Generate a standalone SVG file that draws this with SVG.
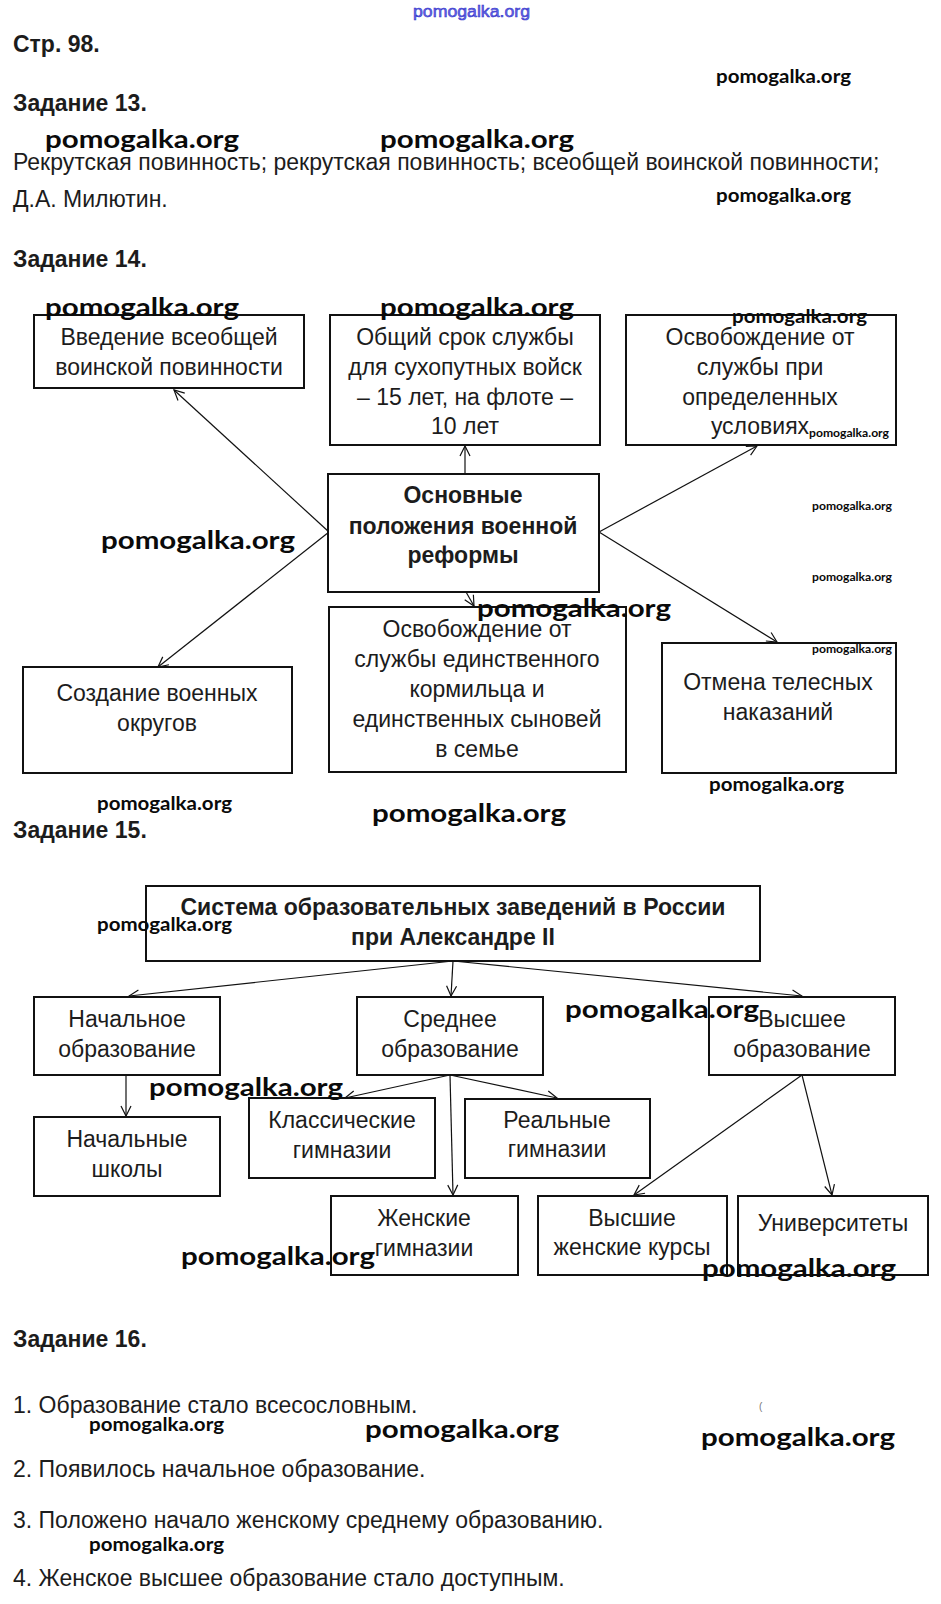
<svg xmlns="http://www.w3.org/2000/svg" width="941" height="1604" viewBox="0 0 941 1604">
<style>
text{font-family:"Liberation Sans",Arial,sans-serif;fill:#1c1c1c}
.h{font-size:23px;font-weight:bold}
.b{font-size:23px}
.t{font-size:23px;text-anchor:middle}
.tb{font-size:23px;font-weight:bold;text-anchor:middle}
.box{fill:#fff;stroke:#111;stroke-width:2}
.c line{stroke:#111;stroke-width:1.2;marker-end:url(#arr)}
.w{font-family:Lato,"Open Sans",sans-serif;font-weight:bold;fill:#0a0a0a}
.wl{font-size:25px}
.ws{font-size:18px}
.wt{font-size:11px}
</style>
<defs>
<marker id="arr" viewBox="0 0 12 12" refX="11" refY="6" markerWidth="12" markerHeight="12" markerUnits="userSpaceOnUse" orient="auto">
<path d="M1,1 L11,6 L1,11" fill="none" stroke="#111" stroke-width="1.2"/>
</marker>
</defs>
<rect width="941" height="1604" fill="#fff"/>

<g id="text-top">
<text x="13" y="52" class="h">Стр. 98.</text>
<text x="13" y="111" class="h">Задание 13.</text>
<text x="13" y="170" class="b">Рекрутская повинность; рекрутская повинность; всеобщей воинской повинности;</text>
<text x="13" y="207" class="b">Д.А. Милютин.</text>
<text x="13" y="267" class="h">Задание 14.</text>
</g>

<g id="connectors-14" class="c">
<line x1="329" y1="532" x2="174" y2="390"/>
<line x1="465" y1="474" x2="465" y2="446"/>
<line x1="599" y1="532" x2="757" y2="446"/>
<line x1="599" y1="532" x2="777" y2="642"/>
<line x1="329" y1="532" x2="158" y2="667"/>
<line x1="466" y1="592" x2="474" y2="606"/>
</g>

<g id="n-vvedenie"><rect class="box" x="34" y="315" width="270" height="73"/>
<text class="t" x="169" y="345">Введение всеобщей</text><text class="t" x="169" y="375">воинской повинности</text></g>
<g id="n-srok"><rect class="box" x="330" y="315" width="270" height="130"/>
<text class="t" x="465" y="345">Общий срок службы</text><text class="t" x="465" y="375">для сухопутных войск</text><text class="t" x="465" y="405">– 15 лет, на флоте –</text><text class="t" x="465" y="434">10 лет</text></g>
<g id="n-osvob1"><rect class="box" x="626" y="315" width="270" height="130"/>
<text class="t" x="760" y="345">Освобождение от</text><text class="t" x="760" y="375">службы при</text><text class="t" x="760" y="405">определенных</text><text class="t" x="760" y="434">условиях</text></g>
<g id="n-center"><rect class="box" x="328" y="474" width="271" height="118"/>
<text class="tb" x="463" y="503">Основные</text><text class="tb" x="463" y="534">положения военной</text><text class="tb" x="463" y="563">реформы</text></g>
<g id="n-okruga"><rect class="box" x="23" y="667" width="269" height="106"/>
<text class="t" x="157" y="701">Создание военных</text><text class="t" x="157" y="731">округов</text></g>
<g id="n-osvob2"><rect class="box" x="329" y="607" width="297" height="165"/>
<text class="t" x="477" y="637">Освобождение от</text><text class="t" x="477" y="667">службы единственного</text><text class="t" x="477" y="697">кормильца и</text><text class="t" x="477" y="727">единственных сыновей</text><text class="t" x="477" y="757">в семье</text></g>
<g id="n-otmena"><rect class="box" x="662" y="643" width="234" height="130"/>
<text class="t" x="778" y="690">Отмена телесных</text><text class="t" x="778" y="720">наказаний</text></g>

<text x="13" y="838" class="h">Задание 15.</text>

<g id="connectors-15" class="c">
<line x1="453" y1="961" x2="129" y2="996"/>
<line x1="453" y1="961" x2="451" y2="996"/>
<line x1="453" y1="961" x2="802" y2="996"/>
<line x1="126" y1="1075" x2="126" y2="1116"/>
<line x1="450" y1="1075" x2="345" y2="1098"/>
<line x1="450" y1="1075" x2="557" y2="1098"/>
<line x1="450" y1="1075" x2="453" y2="1195"/>
<line x1="802" y1="1075" x2="634" y2="1195"/>
<line x1="802" y1="1075" x2="832" y2="1195"/>
</g>

<g id="n-system"><rect class="box" x="146" y="886" width="614" height="75"/>
<text class="tb" x="453" y="915">Система образовательных заведений в России</text><text class="tb" x="453" y="945">при Александре II</text></g>
<g id="n-nach"><rect class="box" x="34" y="997" width="186" height="78"/>
<text class="t" x="127" y="1027">Начальное</text><text class="t" x="127" y="1057">образование</text></g>
<g id="n-sred"><rect class="box" x="357" y="997" width="186" height="78"/>
<text class="t" x="450" y="1027">Среднее</text><text class="t" x="450" y="1057">образование</text></g>
<g id="n-vyssh"><rect class="box" x="709" y="997" width="186" height="78"/>
<text class="t" x="802" y="1027">Высшее</text><text class="t" x="802" y="1057">образование</text></g>
<g id="n-shkoly"><rect class="box" x="34" y="1117" width="186" height="79"/>
<text class="t" x="127" y="1147">Начальные</text><text class="t" x="127" y="1177">школы</text></g>
<g id="n-klass"><rect class="box" x="249" y="1098" width="186" height="80"/>
<text class="t" x="342" y="1128">Классические</text><text class="t" x="342" y="1158">гимназии</text></g>
<g id="n-real"><rect class="box" x="465" y="1099" width="185" height="79"/>
<text class="t" x="557" y="1128">Реальные</text><text class="t" x="557" y="1157">гимназии</text></g>
<g id="n-zhen"><rect class="box" x="331" y="1196" width="187" height="79"/>
<text class="t" x="424" y="1226">Женские</text><text class="t" x="424" y="1256">гимназии</text></g>
<g id="n-kursy"><rect class="box" x="538" y="1196" width="189" height="79"/>
<text class="t" x="632" y="1226">Высшие</text><text class="t" x="632" y="1255">женские курсы</text></g>
<g id="n-univ"><rect class="box" x="738" y="1196" width="190" height="79"/>
<text class="t" x="833" y="1231">Университеты</text></g>

<g id="text-16">
<text x="13" y="1347" class="h">Задание 16.</text>
<text x="13" y="1413" class="b">1. Образование стало всесословным.</text>
<text x="13" y="1477" class="b">2. Появилось начальное образование.</text>
<text x="13" y="1528" class="b">3. Положено начало женскому среднему образованию.</text>
<text x="13" y="1586" class="b">4. Женское высшее образование стало доступным.</text>
<text x="759" y="1410" style="font-size:10px;fill:#777">(</text>
</g>

<g id="watermarks">
<text x="413" y="17" textLength="117" lengthAdjust="spacingAndGlyphs" style="font-family:'Liberation Sans',sans-serif;font-size:16px;fill:#6a6ae6;stroke:#2c2cc8;stroke-width:0.5">pomogalka.org</text>
<text class="w ws" x="716" y="83" textLength="135" lengthAdjust="spacingAndGlyphs">pomogalka.org</text>
<text class="w wl" x="45" y="148" textLength="194" lengthAdjust="spacingAndGlyphs">pomogalka.org</text>
<text class="w wl" x="380" y="148" textLength="194" lengthAdjust="spacingAndGlyphs">pomogalka.org</text>
<text class="w ws" x="716" y="202" textLength="135" lengthAdjust="spacingAndGlyphs">pomogalka.org</text>
<text class="w wl" x="45" y="316" textLength="194" lengthAdjust="spacingAndGlyphs">pomogalka.org</text>
<text class="w wl" x="380" y="316" textLength="194" lengthAdjust="spacingAndGlyphs">pomogalka.org</text>
<text class="w ws" x="732" y="323" textLength="135" lengthAdjust="spacingAndGlyphs">pomogalka.org</text>
<text class="w wt" x="809" y="437" textLength="80" lengthAdjust="spacingAndGlyphs">pomogalka.org</text>
<text class="w wt" x="812" y="510" textLength="80" lengthAdjust="spacingAndGlyphs">pomogalka.org</text>
<text class="w wl" x="101" y="549" textLength="194" lengthAdjust="spacingAndGlyphs">pomogalka.org</text>
<text class="w wt" x="812" y="581" textLength="80" lengthAdjust="spacingAndGlyphs">pomogalka.org</text>
<text class="w wl" x="477" y="617" textLength="194" lengthAdjust="spacingAndGlyphs">pomogalka.org</text>
<text class="w wt" x="812" y="653" textLength="80" lengthAdjust="spacingAndGlyphs">pomogalka.org</text>
<text class="w ws" x="709" y="791" textLength="135" lengthAdjust="spacingAndGlyphs">pomogalka.org</text>
<text class="w ws" x="97" y="810" textLength="135" lengthAdjust="spacingAndGlyphs">pomogalka.org</text>
<text class="w wl" x="372" y="822" textLength="194" lengthAdjust="spacingAndGlyphs">pomogalka.org</text>
<text class="w ws" x="97" y="931" textLength="135" lengthAdjust="spacingAndGlyphs">pomogalka.org</text>
<text class="w wl" x="565" y="1018" textLength="194" lengthAdjust="spacingAndGlyphs">pomogalka.org</text>
<text class="w wl" x="149" y="1096" textLength="194" lengthAdjust="spacingAndGlyphs">pomogalka.org</text>
<text class="w wl" x="181" y="1265" textLength="194" lengthAdjust="spacingAndGlyphs">pomogalka.org</text>
<text class="w wl" x="702" y="1277" textLength="194" lengthAdjust="spacingAndGlyphs">pomogalka.org</text>
<text class="w ws" x="89" y="1431" textLength="135" lengthAdjust="spacingAndGlyphs">pomogalka.org</text>
<text class="w wl" x="365" y="1438" textLength="194" lengthAdjust="spacingAndGlyphs">pomogalka.org</text>
<text class="w wl" x="701" y="1446" textLength="194" lengthAdjust="spacingAndGlyphs">pomogalka.org</text>
<text class="w ws" x="89" y="1551" textLength="135" lengthAdjust="spacingAndGlyphs">pomogalka.org</text>
</g>
</svg>
